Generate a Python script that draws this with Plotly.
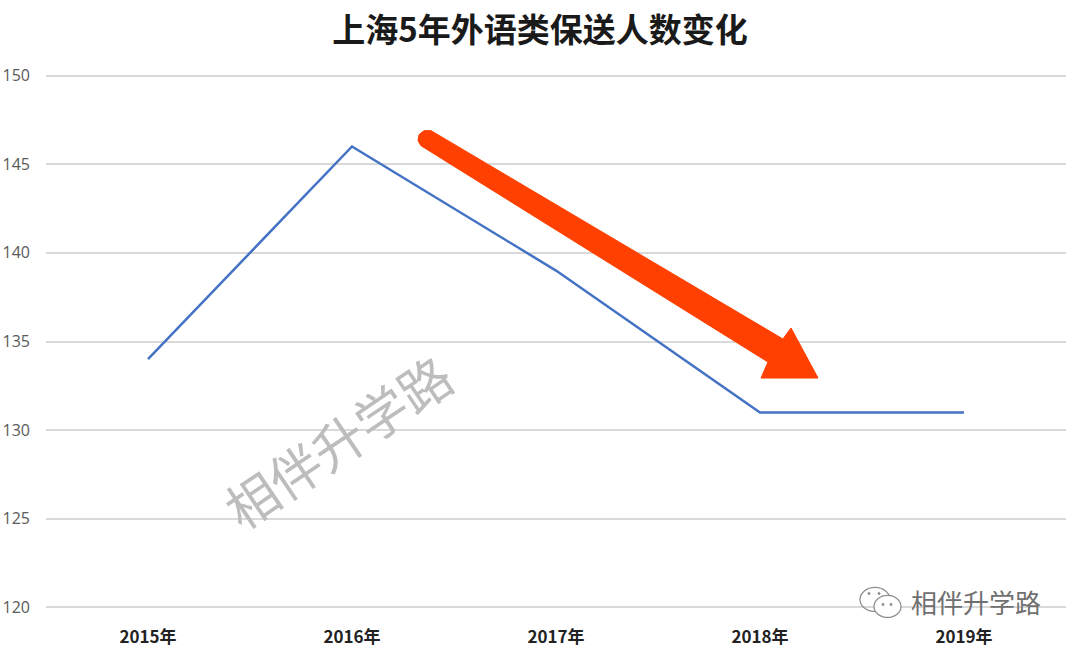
import plotly.graph_objects as go

years = ["2015年", "2016年", "2017年", "2018年", "2019年"]
counts = [134, 146, 139, 131, 131]
y_ticks = [120, 125, 130, 135, 140, 145, 150]

W, H = 1080, 653
PAD = 0.2
UNIT = (607 - 76) / 30.0
L, R = 46, 14
T, B = 76 - PAD * UNIT, 46 - PAD * UNIT
PW, PH = W - L - R, H - T - B

def px(x, y):
    return (x - L) / PW, (H - B - y) / PH

arrow_pts = [(431, 131), (783, 339), (791, 328), (818, 378), (761, 378), (768, 362),
             (421, 146), (418, 141), (419, 135), (424, 131)]
path = "M " + " L ".join("%.4f,%.4f" % px(x, y) for x, y in arrow_pts) + " Z"

fig = go.Figure()
fig.add_trace(go.Scatter(x=years, y=counts, mode="lines",
                         line=dict(color="#4472C4", width=2.5), showlegend=False))

fig.add_shape(type="path", path=path, xref="paper", yref="paper",
              fillcolor="#FF4000", line=dict(color="#FF4000", width=1), layer="above")

# watermark
wx, wy = px(337, 440)
fig.add_annotation(text="相伴升学路", xref="paper", yref="paper", x=wx, y=wy,
                   xanchor="center", yanchor="middle", showarrow=False, textangle=-34,
                   font=dict(family="Noto Sans CJK SC", size=52, color="#bdbdbd"))

# logo
lx, ly = px(976, 601)
fig.add_annotation(text="相伴升学路", xref="paper", yref="paper", x=lx, y=ly,
                   xanchor="center", yanchor="middle", showarrow=False,
                   font=dict(family="Noto Sans CJK SC", size=26, color="#707070"))

def circ(x0, y0, x1, y1, fill="rgba(255,255,255,0)", col="#8f8f8f", w=1.3):
    a0, b0 = px(x0, y1)
    a1, b1 = px(x1, y0)
    fig.add_shape(type="circle", xref="paper", yref="paper", x0=a0, y0=b0, x1=a1, y1=b1,
                  line=dict(color=col, width=w), fillcolor=fill)

circ(860, 587, 890, 611)
circ(874, 595, 901, 617, fill="white")
for cx, cy in [(869, 593), (879, 593), (883, 604), (891, 604)]:
    circ(cx - 1.2, cy - 1.2, cx + 1.2, cy + 1.2, fill="#8f8f8f", w=0.5)

fig.update_layout(
    width=W, height=H,
    margin=dict(l=L, r=R, t=T, b=B),
    paper_bgcolor="white", plot_bgcolor="white",
    title=dict(text="<b>上海5年外语类保送人数变化</b>", x=0.5, xanchor="center",
               y=1 - 30 / H, yanchor="middle",
               font=dict(family="Noto Sans CJK SC", size=33, color="#1a1a1a")),
    xaxis=dict(type="category", range=[-0.5, 4.5], showgrid=False, showline=False,
               zeroline=False, ticks="", automargin=False,
               ticklabelstandoff=int(round(10 + PAD * UNIT)),
               tickfont=dict(family="Noto Sans CJK SC", size=17, color="#222222", weight="bold")),
    yaxis=dict(range=[120 - PAD, 150 + PAD], tickvals=y_ticks, showgrid=True, gridcolor="#d9d9d9",
               gridwidth=1.5, zeroline=False, showline=False, ticks="", automargin=False,
               ticklabelstandoff=15,
               tickfont=dict(family="Open Sans", size=16, color="#5a5a5a")),
)

fig.write_html("out.html", config={"displayModeBar": False},
               post_script="document.body.style.margin='0';")
